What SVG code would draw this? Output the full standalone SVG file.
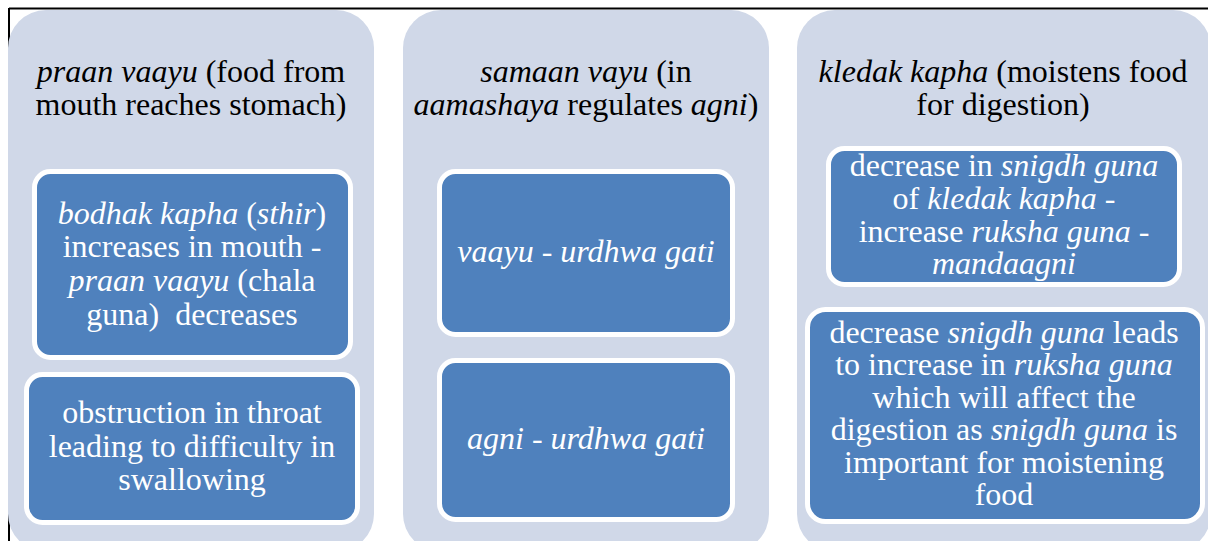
<svg xmlns="http://www.w3.org/2000/svg" width="1208" height="541" viewBox="0 0 1208 541">
<style>
.col{fill:#D0D8E8}
.box{fill:#4F81BD;stroke:#FFFFFF;stroke-width:5}
text{font-size:32px;text-anchor:middle}
.hd{fill:#000000}
.bt{fill:#FFFFFF}
.i{font-style:italic}
</style>
<rect width="1208" height="541" fill="#FFFFFF"/>
<g id="frame">
<line x1="9" y1="8.5" x2="1208" y2="8.5" stroke="#000000" stroke-width="2"/>
<line x1="9" y1="8" x2="9" y2="541" stroke="#000000" stroke-width="2"/>
</g>
<g font-family="Liberation Serif, Tinos, Times New Roman, Times, DejaVu Serif, serif">
<g id="col1">
<rect class="col" x="8" y="10" width="366" height="542" rx="38" ry="38"/>
<text class="hd" y="82"><tspan x="191"><tspan class="i">praan vaayu</tspan> (food from</tspan></text>
<text class="hd" x="191" y="115">mouth reaches stomach)</text>
</g>
<g id="col2">
<rect class="col" x="403" y="10" width="366" height="542" rx="38" ry="38"/>
<text class="hd" y="82"><tspan x="586"><tspan class="i">samaan vayu</tspan> (in</tspan></text>
<text class="hd" y="115"><tspan x="586"><tspan class="i">aamashaya</tspan> regulates <tspan class="i">agni</tspan>)</tspan></text>
</g>
<g id="col3">
<rect class="col" x="797" y="10" width="414" height="542" rx="38" ry="38"/>
<text class="hd" y="82"><tspan x="1003"><tspan class="i">kledak kapha</tspan> (moistens food</tspan></text>
<text class="hd" x="1003" y="115">for digestion)</text>
</g>
<g id="nodeA">
<rect class="box" x="34.5" y="171.5" width="316" height="186" rx="16" ry="16"/>
<text class="bt" y="224"><tspan x="192"><tspan class="i">bodhak kapha</tspan> (<tspan class="i">sthir</tspan>)</tspan></text>
<text class="bt" x="192" y="257">increases in mouth -</text>
<text class="bt" y="291"><tspan x="192"><tspan class="i">praan vaayu</tspan> (chala</tspan></text>
<text class="bt" x="192" y="325" xml:space="preserve">guna)  decreases</text>
</g>
<g id="nodeB">
<rect class="box" x="26.5" y="374.5" width="331" height="148" rx="16" ry="16"/>
<text class="bt" x="192" y="423">obstruction in throat</text>
<text class="bt" x="192" y="457">leading to difficulty in</text>
<text class="bt" x="192" y="490">swallowing</text>
</g>
<g id="nodeC">
<rect class="box" x="439.5" y="171.5" width="293" height="163" rx="16" ry="16"/>
<text class="bt i" x="586" y="262">vaayu - urdhwa gati</text>
</g>
<g id="nodeD">
<rect class="box" x="439.5" y="360.5" width="293" height="159" rx="16" ry="16"/>
<text class="bt i" x="586" y="449">agni - urdhwa gati</text>
</g>
<g id="nodeE">
<rect class="box" x="828.5" y="148.5" width="351" height="136" rx="16" ry="16"/>
<text class="bt" y="176"><tspan x="1004">decrease in <tspan class="i">snigdh guna</tspan></tspan></text>
<text class="bt" y="209"><tspan x="1004">of <tspan class="i">kledak kapha</tspan> -</tspan></text>
<text class="bt" y="242"><tspan x="1004">increase <tspan class="i">ruksha guna</tspan> -</tspan></text>
<text class="bt i" x="1004" y="274">mandaagni</text>
</g>
<g id="nodeF">
<rect class="box" x="807.5" y="309.5" width="395" height="212" rx="18" ry="18"/>
<text class="bt" y="343"><tspan x="1004">decrease <tspan class="i">snigdh guna</tspan> leads</tspan></text>
<text class="bt" y="375"><tspan x="1004">to increase in <tspan class="i">ruksha guna</tspan></tspan></text>
<text class="bt" x="1004" y="408">which will affect the</text>
<text class="bt" y="440"><tspan x="1004">digestion as <tspan class="i">snigdh guna</tspan> is</tspan></text>
<text class="bt" x="1004" y="473">important for moistening</text>
<text class="bt" x="1004" y="505">food</text>
</g>
</g>
<g id="connectors"></g>
</svg>
